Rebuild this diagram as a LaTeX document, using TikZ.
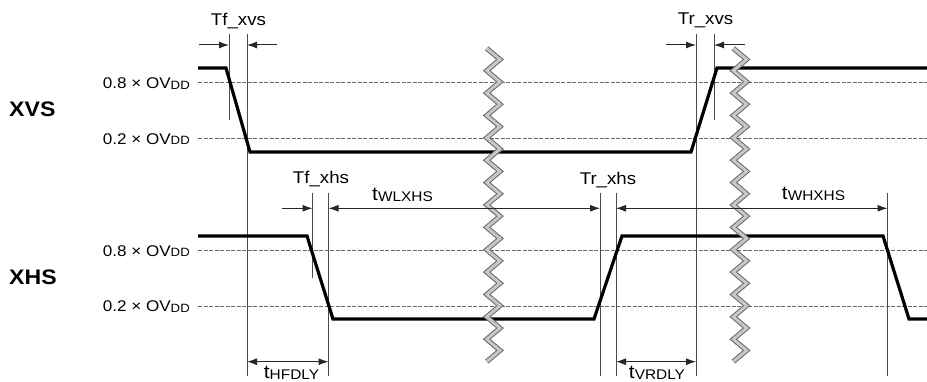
\documentclass[tikz,border=0pt]{standalone}
\usepackage{fontspec}
\setmainfont{Liberation Sans}[FakeStretch=1.1]
\usetikzlibrary{arrows.meta}
\newcommand\ovdd[1]{{\fontsize{15.5}{16}\selectfont #1 × OV\raisebox{-0.4pt}{\fontsize{12}{12}\selectfont DD}}}
\newcommand\tsub[1]{{\fontsize{19}{19}\selectfont t\raisebox{-1pt}{\fontsize{14}{14}\selectfont #1}}}
\tikzset{
  wave/.style={line width=3.2pt, line join=miter},
  thr/.style={black!60, line width=0.7pt, dash pattern=on 4pt off 1.5pt},
  guide/.style={black!70, line width=1pt},
  dim/.style={black!85, line width=1pt},
  tip/.style={-{Latex[length=10pt,width=7pt]}},
  tips/.style={{Latex[length=10pt,width=7pt]}-{Latex[length=10pt,width=7pt]}},
  lbl/.style={font=\fontsize{17}{17}\selectfont, anchor=base, inner sep=0pt},
  lvl/.style={anchor=base east, inner sep=0pt},
  sig/.style={font=\bfseries\fontsize{21}{21}\selectfont, anchor=base west, inner sep=0pt},
  zigout/.style={black!60, line width=5pt, line join=miter},
  ziginn/.style={black!22, line width=3pt, line join=miter}
}
\newcommand\zigzag[1]{%
  \draw[zigout] (#1,48.3) \foreach \i in {1,...,28} { -- ({#1+13.3*mod(\i,2)},{48.3+\i*11.19}) };
  \draw[ziginn] (#1,48.3) \foreach \i in {1,...,28} { -- ({#1+13.3*mod(\i,2)},{48.3+\i*11.19}) };
}
\begin{document}
\begin{tikzpicture}[x=1pt,y=-1pt]
\useasboundingbox (0,0) rectangle (927,382);
% threshold lines
\coordinate (t8vs) at (198,82);   \coordinate (t8vsE) at (927,82);
\coordinate (t2vs) at (198,138);  \coordinate (t2vsE) at (927,138);
\coordinate (t8hs) at (198,250);  \coordinate (t8hsE) at (927,250);
\coordinate (t2hs) at (198,306);  \coordinate (t2hsE) at (927,306);
\draw[thr] (t8vs) -- (t8vsE);
\draw[thr] (t2vs) -- (t2vsE);
\draw[thr] (t8hs) -- (t8hsE);
\draw[thr] (t2hs) -- (t2hsE);
% labels
\node[sig] (xvs) at (9,116.7) {XVS};
\node[sig] (xhs) at (9,285) {XHS};
\node[lvl] (l1) at (190,89) {\ovdd{0.8}};
\node[lvl] (l2) at (190,144.3) {\ovdd{0.2}};
\node[lvl] (l3) at (190,256.5) {\ovdd{0.8}};
\node[lvl] (l4) at (190,312) {\ovdd{0.2}};
% guide lines
\coordinate (g1t) at (229,34);  \coordinate (g1b) at (229,120);
\coordinate (g2t) at (247,34);  \coordinate (g2b) at (247,376);
\coordinate (g3t) at (696,34);  \coordinate (g3b) at (696,376);
\coordinate (g4t) at (714,34);  \coordinate (g4b) at (714,120);
\coordinate (h1t) at (312.5,193); \coordinate (h1b) at (312.5,278);
\coordinate (h2t) at (328.5,193); \coordinate (h2b) at (328.5,376);
\coordinate (h3t) at (600,193); \coordinate (h3b) at (600,376);
\coordinate (h4t) at (616,193); \coordinate (h4b) at (616,376);
\coordinate (h5t) at (887.5,193); \coordinate (h5b) at (887.5,376);
\foreach \g in {g1,g2,g3,g4,h1,h2,h3,h4,h5} \draw[guide] (\g t) -- (\g b);
% waveforms
\draw[wave] (198,68) -- (226,68) -- (250,152) -- (691,152) -- (717,68) -- (927,68);
\draw[wave] (198,236) -- (307,236) -- (333,319) -- (594,319) -- (622,236) -- (883,236) -- (909,319) -- (927,319);
% break marks
\zigzag{486.7}
\zigzag{733.3}
% dimension arrows
\coordinate (a1) at (199,45);
\coordinate (a2) at (277,45);
\coordinate (a3) at (666,45);
\coordinate (a4) at (745,45);
\coordinate (a5) at (282,208.3);
\coordinate (dy) at (0,208.3);
\coordinate (by) at (0,361.7);
\draw[dim,tip] (a1) -- (g1t |- a1);
\draw[dim,tip] (a2) -- (g2t |- a2);
\draw[dim,tip] (a3) -- (g3t |- a3);
\draw[dim,tip] (a4) -- (g4t |- a4);
\draw[dim,tip] (a5) -- (h1t |- a5);
\draw[dim,tips] (h2t |- dy) -- (h3t |- dy);
\draw[dim,tips] (h4t |- dy) -- (h5t |- dy);
\draw[dim,tips] (g2t |- by) -- (h2t |- by);
\draw[dim,tips] (h4t |- by) -- (g3t |- by);
% timing labels
\node[lbl] (tfxvs) at (238.5,25.5) {Tf\_xvs};
\node[lbl] (trxvs) at (705.5,25) {Tr\_xvs};
\node[lbl] (tfxhs) at (321,183.5) {Tf\_xhs};
\node[lbl] (trxhs) at (608,185) {Tr\_xhs};
\node[anchor=base, inner sep=0pt] (twl) at (402.5,200.5) {\tsub{WLXHS}};
\node[anchor=base, inner sep=0pt] (twh) at (813.5,200) {\tsub{WHXHS}};
\node[anchor=base, inner sep=0pt] (thf) at (291.5,378.5) {\tsub{HFDLY}};
\node[anchor=base, inner sep=0pt] (tvr) at (657,378.5) {\tsub{VRDLY}};
\end{tikzpicture}
\end{document}
